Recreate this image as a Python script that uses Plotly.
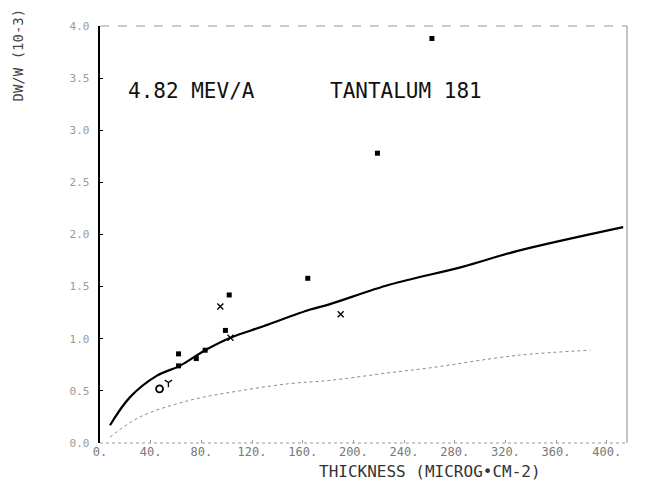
import plotly.graph_objects as go

# Measured data points (thickness in microg/cm2, DW/W in 10^-3)
sq_x = [262, 219, 164, 102, 99, 83, 76, 62, 62]
sq_y = [3.88, 2.78, 1.58, 1.42, 1.08, 0.89, 0.81, 0.855, 0.74]
cross_x = [95, 103, 190]
cross_y = [1.31, 1.01, 1.235]
circ_x = [47]
circ_y = [0.52]
ymark_x = [54]
ymark_y = [0.58]

# Theory curve (solid)
curve_x = [7.9, 23.7, 45, 63, 83, 103, 129, 166, 181, 229, 286, 329, 413]
curve_y = [0.17, 0.44, 0.646, 0.74, 0.89, 1.01, 1.12, 1.28, 1.33, 1.52, 1.69, 1.84, 2.07]

# Lower dotted curve
low_x = [7.9, 31.6, 71, 110, 150, 181, 229, 260, 329, 387]
low_y = [0.057, 0.25, 0.41, 0.50, 0.57, 0.60, 0.675, 0.72, 0.84, 0.89]

xticks = [0, 40, 80, 120, 160, 200, 240, 280, 320, 360, 400]
xtick_text = ["0.", "40.", "80.", "120.", "160.", "200.", "240.", "280.", "320.", "360.", "400."]
yticks = [0.0, 0.5, 1.0, 1.5, 2.0, 2.5, 3.0, 3.5, 4.0]
ytick_text = ["0.0", "0.5", "1.0", "1.5", "2.0", "2.5", "3.0", "3.5", "4.0"]

MONO = "DejaVu Sans Mono"

fig = go.Figure()
fig.add_trace(go.Scatter(x=low_x, y=low_y, mode="lines", line_shape="spline",
                         line=dict(color="#8a8a8a", width=1, dash="dot"), showlegend=False))
fig.add_trace(go.Scatter(x=curve_x, y=curve_y, mode="lines", line_shape="spline",
                         line=dict(color="black", width=2.2), showlegend=False))
fig.add_trace(go.Scatter(x=sq_x, y=sq_y, mode="markers",
                         marker=dict(symbol="square", size=5, color="black"), showlegend=False))
fig.add_trace(go.Scatter(x=cross_x, y=cross_y, mode="markers",
                         marker=dict(symbol="x-thin", size=6, color="black",
                                     line=dict(color="black", width=1.3)),
                         showlegend=False))
fig.add_trace(go.Scatter(x=circ_x, y=circ_y, mode="markers",
                         marker=dict(symbol="circle-open", size=7, color="black",
                                     line=dict(color="black", width=1.8)),
                         showlegend=False))
fig.add_trace(go.Scatter(x=ymark_x, y=ymark_y, mode="markers",
                         marker=dict(symbol="y-down-open", size=6, color="black",
                                     line=dict(color="black", width=1.3)),
                         showlegend=False))

fig.update_layout(
    width=645, height=481,
    margin=dict(l=92, r=26, t=14, b=46),
    paper_bgcolor="white", plot_bgcolor="white",
    font=dict(family=MONO, color="#777"),
    xaxis=dict(range=[0, 416], tickvals=xticks, ticktext=xtick_text,
               showgrid=False, zeroline=False, showline=False,
               ticks="inside", ticklen=3, tickcolor="#999",
               tickfont=dict(family=MONO, size=12, color="#777")),
    yaxis=dict(range=[0, 4.0], tickvals=yticks,
               ticktext=[t + "\u00a0" for t in ytick_text],
               showgrid=False, zeroline=False, showline=True, linecolor="black", linewidth=1.5,
               ticks="inside", ticklen=3, tickcolor="black",
               tickfont=dict(family=MONO, size=11, color="#999")),
    shapes=[
        dict(type="line", xref="paper", yref="paper", x0=0, x1=1, y0=0, y1=0,
             line=dict(color="#999", width=1, dash="dot")),
        dict(type="line", xref="paper", yref="paper", x0=0, x1=1, y0=1, y1=1,
             line=dict(color="#999", width=1, dash="dash")),
        dict(type="line", xref="paper", yref="paper", x0=1, x1=1, y0=0, y1=1,
             line=dict(color="#888", width=1)),
    ],
    annotations=[
        dict(text="4.82 MEV/A", xref="paper", yref="paper", x=0.05, y=0.845,
             xanchor="left", yanchor="middle", showarrow=False,
             font=dict(family=MONO, size=21, color="#111")),
        dict(text="TANTALUM 181", xref="paper", yref="paper", x=0.432, y=0.845,
             xanchor="left", yanchor="middle", showarrow=False,
             font=dict(family=MONO, size=21, color="#111")),
        dict(text="DW/W (10-3)", xref="paper", yref="paper", x=-0.155, y=0.93,
             xanchor="center", yanchor="middle", textangle=-90, showarrow=False,
             font=dict(family=MONO, size=14, color="#444")),
        dict(text="THICKNESS (MICROG\u2022CM-2)", xref="paper", yref="paper", x=0.626, y=-0.068,
             xanchor="center", yanchor="middle", showarrow=False,
             font=dict(family=MONO, size=16, color="#333")),
    ],
)

fig.write_html("out.html")
